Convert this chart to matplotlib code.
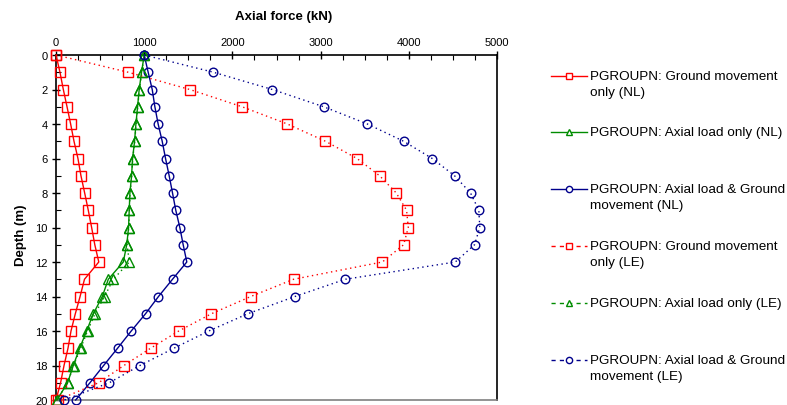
import matplotlib
matplotlib.use('Agg')
import matplotlib.pyplot as plt
from matplotlib.lines import Line2D
from matplotlib.ticker import MultipleLocator

plt.rcParams['font.family'] = ['Liberation Sans', 'DejaVu Sans']

depth = list(range(21))

gm_nl = [0, 45, 83, 125, 166, 204, 249, 283, 325, 366, 404, 440, 485, 323, 273, 219, 170, 136, 91, 52, 0]
axial_nl = [1000, 970, 943, 925, 906, 891, 868, 857, 838, 830, 823, 802, 763, 593, 525, 423, 347, 268, 196, 132, 10]
both_nl = [1000, 1045, 1091, 1121, 1158, 1204, 1242, 1283, 1321, 1358, 1404, 1442, 1483, 1321, 1162, 1015, 853, 698, 540, 385, 223]
gm_le = [0, 819, 1517, 2109, 2623, 3055, 3413, 3669, 3858, 3975, 3994, 3941, 3700, 2694, 2208, 1762, 1392, 1072, 770, 483, 20]
axial_le = [1000, 972, 945, 927, 908, 893, 870, 859, 840, 832, 825, 806, 831, 650, 550, 442, 358, 279, 200, 132, 10]
both_le = [1000, 1785, 2453, 3035, 3530, 3941, 4266, 4519, 4700, 4794, 4805, 4745, 4527, 3281, 2709, 2174, 1732, 1336, 951, 604, 94]

labels = ['PGROUPN: Ground movement\nonly (NL)',
          'PGROUPN: Axial load only (NL)',
          'PGROUPN: Axial load & Ground\nmovement (NL)',
          'PGROUPN: Ground movement\nonly (LE)',
          'PGROUPN: Axial load only (LE)',
          'PGROUPN: Axial load & Ground\nmovement (LE)']

red = '#ff0000'
green = '#008c00'
blue = '#00008c'

series = [
    (gm_nl, red, 's', '-'),
    (axial_nl, green, '^', '-'),
    (both_nl, blue, 'o', '-'),
    (gm_le, red, 's', ':'),
    (axial_le, green, '^', ':'),
    (both_le, blue, 'o', ':'),
]

fig = plt.figure(figsize=(7.87, 4.06), dpi=100)
ax = fig.add_axes([56 / 787, 1 - 401 / 406, 441 / 787, 345 / 406])

msize = {'s': 6.5, '^': 6.5, 'o': 6.2}
for vals, c, m, ls in series:
    lsty = '-' if ls == '-' else (0, (1, 2.5))
    ax.plot(vals, depth, color=c, linestyle=lsty, lw=1.0, marker=m,
            markersize=msize[m], markerfacecolor='none', markeredgecolor=c,
            markeredgewidth=1.0, clip_on=False, zorder=3)

ax.set_xlim(0, 5000)
ax.set_ylim(20, 0)
ax.xaxis.set_ticks_position('top')
ax.xaxis.set_label_position('top')
ax.xaxis.set_major_locator(MultipleLocator(1000))
ax.xaxis.set_minor_locator(MultipleLocator(250))
ax.yaxis.set_major_locator(MultipleLocator(2))
ax.yaxis.set_minor_locator(MultipleLocator(1))
ax.tick_params(which='major', direction='inout', length=6, width=1, labelsize=8, pad=3)
ax.tick_params(which='minor', direction='in', length=3.5, width=0.8)
ax.tick_params(axis='y', which='major', pad=3)

for s in ['top', 'left', 'right']:
    ax.spines[s].set_color('black')
    ax.spines[s].set_linewidth(1.2)
ax.spines['bottom'].set_color('#808080')
ax.spines['bottom'].set_linewidth(1.2)

ax.set_xlabel('Axial force (kN)', fontsize=9.5, fontweight='bold')
ax.xaxis.set_label_coords(0.517, 1.105)
ax.set_ylabel('Depth (m)', fontsize=9.5, fontweight='bold')
ax.yaxis.set_label_coords(-0.066, 0.48)

# legend drawn by hand so the marker lines up with the first text line
legend_y = [76.7, 132.7, 190, 246.7, 304, 360.7]
for (vals, c, m, ls), lab, yp in zip(series, labels, legend_y):
    yf = 1 - yp / 406
    lsty = '-' if ls == '-' else (0, (3, 3))
    fig.add_artist(Line2D([551 / 787, 587 / 787], [yf, yf], transform=fig.transFigure,
                          color=c, lw=1.0, linestyle=lsty))
    fig.add_artist(Line2D([569 / 787], [yf], transform=fig.transFigure, color=c,
                          marker=m, markersize=4.5, markerfacecolor='white',
                          markeredgecolor=c, markeredgewidth=1.0, linestyle='none'))
    fig.text(590 / 787, 1 - (yp - 6) / 406, lab, fontsize=9.7, va='top', ha='left',
             linespacing=1.45)

fig.savefig('out.png', dpi=100)
